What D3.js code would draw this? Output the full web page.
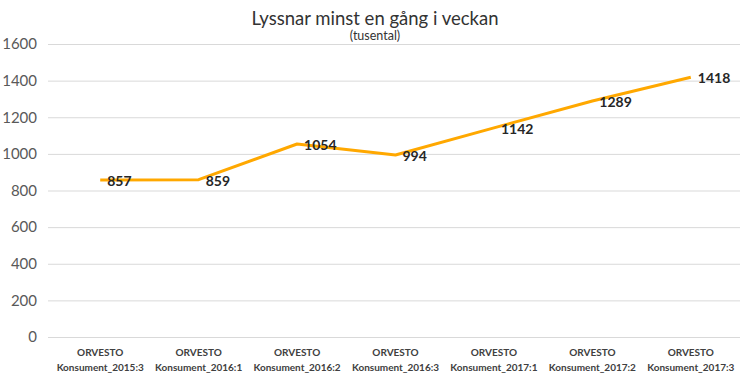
<!DOCTYPE html>
<html><head><meta charset="utf-8">
<script src="https://cdn.jsdelivr.net/npm/d3@7"></script>
<style>body{margin:0;background:#fff}svg{display:block}</style>
</head><body>
<script>
const categories = ["ORVESTO Konsument_2015:3","ORVESTO Konsument_2016:1","ORVESTO Konsument_2016:2","ORVESTO Konsument_2016:3","ORVESTO Konsument_2017:1","ORVESTO Konsument_2017:2","ORVESTO Konsument_2017:3"];
const values = [857, 859, 1054, 994, 1142, 1289, 1418];
const yTicks = [0, 200, 400, 600, 800, 1000, 1200, 1400, 1600];
const title = "Lyssnar minst en gång i veckan";
const subtitle = "(tusental)";

const W = 750, H = 384;
const svg = d3.select("body").append("svg").attr("width", W).attr("height", H);
const x = d3.scaleBand().domain(categories).range([51, 740]);
const y = d3.scaleLinear().domain([0, 1600]).range([337, 44]);

// gridlines
svg.append("g").selectAll("line").data(yTicks).join("line")
  .attr("x1", 48).attr("x2", 740)
  .attr("y1", d => y(d) + 0.5).attr("y2", d => y(d) + 0.5)
  .attr("stroke", "#d9d9d9").attr("stroke-width", 1);

// y axis labels
const yAxis = d3.axisLeft(y).tickValues(yTicks).tickSize(0).tickPadding(0).tickFormat(d3.format("d"));
const ya = svg.append("g").attr("transform", "translate(37,0)").call(yAxis);
ya.select(".domain").remove();
ya.selectAll("text").attr("font-family", "Lato, sans-serif").attr("font-size", 15).attr("fill", "#595959");

// x axis labels
const xg = svg.append("g");
categories.forEach(c => {
  const parts = c.split(" ");
  const cx = x(c) + x.bandwidth() / 2;
  const t = xg.append("text").attr("x", cx).attr("text-anchor", "middle")
    .attr("font-family", "Lato, sans-serif").attr("font-weight", "bold").attr("font-size", 10).attr("fill", "#404040");
  t.append("tspan").attr("x", cx).attr("y", 356).text(parts[0]);
  t.append("tspan").attr("x", cx).attr("y", 371).text(parts[1]);
});

// line
const line = d3.line().x((d, i) => x(categories[i]) + x.bandwidth() / 2).y(d => y(d));
svg.append("path").datum(values).attr("d", line).attr("fill", "none")
  .attr("stroke", "#FFA800").attr("stroke-width", 3).attr("stroke-linejoin", "round");

// labels
svg.append("g").selectAll("text").data(values).join("text")
  .attr("x", (d, i) => x(categories[i]) + x.bandwidth() / 2 + 7)
  .attr("y", d => y(d) + 1).attr("dy", "0.36em")
  .attr("font-family", "Lato, sans-serif").attr("font-weight", "bold").attr("font-size", 14)
  .attr("fill", "#262626").text(d => d);

// title
svg.append("text").attr("x", 375).attr("y", 25).attr("text-anchor", "middle")
  .attr("font-family", "Lato, sans-serif").attr("font-size", 18.5).attr("fill", "#333").text(title);
svg.append("text").attr("x", 375).attr("y", 40).attr("text-anchor", "middle")
  .attr("font-family", "Lato, sans-serif").attr("font-size", 12.5).attr("fill", "#333").text(subtitle);
</script>
</body></html>
